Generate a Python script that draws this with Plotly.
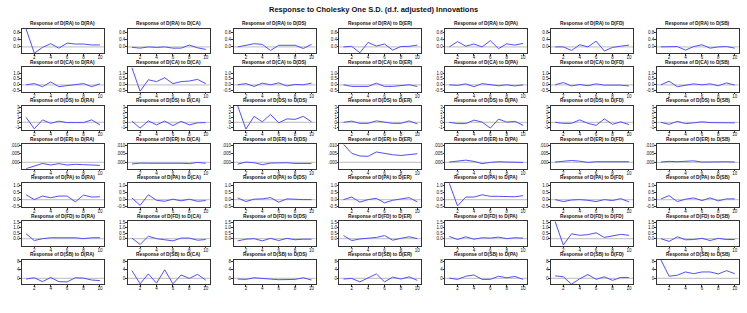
import plotly.graph_objects as go

variables = ["RA", "CA", "DS", "ER", "PA", "FD", "SB"]
periods = list(range(1, 11))
x_ticks = [2, 4, 6, 8, 10]

# responses of each row variable to shocks in each column variable
resp_RA = [
    [1.00, -0.35, -0.03, 0.18, -0.07, 0.21, 0.16, 0.16, 0.11, 0.11],
    [-0.02, -0.07, 0.00, -0.03, 0.00, -0.07, -0.07, 0.10, -0.05, -0.14],
    [0.00, 0.09, 0.18, 0.14, -0.20, 0.09, 0.09, 0.09, -0.09, 0.14],
    [0.00, 0.03, -0.33, 0.25, 0.05, 0.16, -0.18, 0.02, 0.03, 0.10],
    [0.00, 0.30, 0.04, 0.16, 0.00, 0.35, -0.10, 0.17, 0.10, 0.20],
    [0.00, 0.00, -0.20, 0.12, 0.00, 0.32, -0.23, -0.03, 0.04, 0.10],
    [0.00, 0.02, 0.02, -0.18, 0.02, 0.12, -0.07, 0.00, 0.02, -0.07],
]
resp_CA = [
    [0.00, 0.10, -0.16, 0.24, -0.16, -0.08, 0.00, 0.10, -0.16, 0.08],
    [1.45, -0.55, 0.43, 0.27, 0.60, 0.10, 0.27, 0.32, 0.46, 0.10],
    [0.00, 0.10, -0.14, 0.14, 0.00, 0.16, -0.10, 0.03, 0.00, 0.14],
    [0.00, -0.14, -0.14, -0.14, 0.14, -0.14, -0.14, -0.05, 0.00, -0.14],
    [0.00, -0.05, 0.08, -0.16, 0.10, 0.00, -0.08, 0.00, -0.10, 0.00],
    [0.00, 0.19, -0.10, 0.03, -0.08, 0.08, -0.03, -0.03, -0.03, -0.10],
    [0.00, 0.30, -0.16, -0.03, 0.08, 0.00, 0.08, -0.08, 0.16, -0.03],
]
resp_DS = [
    [1.0, -1.3, 0.5, -0.2, 0.25, -0.05, -0.05, -0.05, 0.5, -0.5],
    [0.25, -1.15, 0.3, -0.5, 0.25, -0.65, 0.2, -0.5, -0.1, -0.05],
    [3.3, -1.35, 1.2, 0.1, 1.6, -0.1, 0.7, 0.6, 1.2, 0.1],
    [0.0, 0.25, -0.2, -0.2, 0.3, 0.05, -0.2, -0.2, 0.3, -0.3],
    [0.0, -0.25, -0.25, 0.45, 0.05, -1.15, 0.65, 0.05, 0.2, -0.6],
    [0.0, -0.2, -0.2, 0.5, -0.2, -0.6, 0.7, -0.4, 0.1, -0.45],
    [0.0, -0.4, 0.2, -0.25, -0.1, 0.1, -0.05, -0.1, -0.05, -0.1],
]
resp_ER = [
    [-0.0036, -0.0020, -0.0006, -0.0015, -0.0007, -0.0015, -0.0011, -0.0013, -0.0017, -0.0017],
    [-0.0009, -0.0004, -0.0005, -0.0005, -0.0002, -0.0002, -0.0005, -0.0007, 0.0000, -0.0005],
    [-0.0010, 0.0002, -0.0002, -0.0013, -0.0004, -0.0002, -0.0002, -0.0006, -0.0006, -0.0006],
    [0.0104, 0.0052, 0.0037, 0.0035, 0.0060, 0.0050, 0.0044, 0.0040, 0.0046, 0.0050],
    [0.0002, 0.0006, 0.0013, 0.0006, -0.0007, 0.0000, 0.0004, 0.0002, 0.0002, 0.0000],
    [0.0002, 0.0006, 0.0011, 0.0007, 0.0000, 0.0004, 0.0004, 0.0004, 0.0004, 0.0004],
    [0.0002, 0.0006, 0.0004, 0.0006, 0.0009, 0.0002, 0.0004, 0.0004, 0.0004, 0.0002],
]
resp_PA = [
    [0.34, 0.00, 0.25, 0.13, 0.25, 0.25, -0.16, 0.32, 0.18, 0.20],
    [0.12, -0.41, 0.34, -0.05, -0.12, 0.03, -0.09, 0.03, -0.12, -0.07],
    [0.12, -0.14, 0.03, 0.05, 0.14, -0.18, 0.05, 0.00, 0.00, 0.00],
    [0.00, 0.18, -0.18, 0.00, 0.09, -0.23, -0.05, 0.05, 0.14, -0.16],
    [1.15, -0.45, 0.18, 0.18, 0.34, 0.23, 0.23, 0.20, 0.20, 0.28],
    [0.00, -0.14, -0.03, 0.00, -0.05, -0.14, 0.00, -0.07, 0.07, -0.16],
    [0.05, 0.28, -0.14, 0.03, 0.12, -0.07, 0.12, -0.09, 0.05, 0.05],
]
resp_FD = [
    [0.44, -0.17, 0.00, 0.08, 0.08, 0.11, 0.08, 0.00, 0.08, 0.08],
    [0.05, -0.53, 0.22, 0.00, -0.10, -0.20, 0.05, 0.05, -0.14, -0.08],
    [-0.20, -0.05, 0.00, -0.20, 0.03, -0.17, 0.03, -0.10, -0.05, -0.05],
    [0.28, -0.17, -0.03, 0.05, 0.11, 0.28, -0.14, 0.03, 0.17, 0.00],
    [0.20, -0.08, 0.17, -0.05, 0.08, 0.05, 0.14, 0.00, 0.08, 0.05],
    [1.55, -0.58, 0.44, 0.30, 0.36, 0.53, 0.11, 0.28, 0.39, 0.30],
    [0.00, -0.25, 0.17, -0.10, -0.08, 0.03, -0.17, 0.03, -0.08, -0.08],
]
resp_SB = [
    [-0.3, 0.3, -1.5, 0.45, -1.5, -1.6, 0.3, 0.15, -0.75, -1.0],
    [3.6, -2.5, 2.1, -2.2, 4.0, -2.5, 1.6, 0.0, 1.9, -0.75],
    [-0.3, -0.45, 0.3, -0.15, -0.3, -0.6, -0.45, -0.45, 0.3, -0.75],
    [-0.3, 0.0, -1.6, 0.3, 2.1, -1.6, 0.6, -0.3, 0.75, -0.9],
    [0.15, -0.45, 1.0, 1.6, -0.45, -0.45, 1.0, 0.3, 0.9, -0.45],
    [1.2, 0.75, -2.7, -0.15, 1.8, -0.45, 0.75, -0.9, 0.45, 0.45],
    [8.6, 1.0, 1.5, 3.0, 2.2, 3.0, 3.0, 2.1, 3.6, 2.2],
]
responses = [resp_RA, resp_CA, resp_DS, resp_ER, resp_PA, resp_FD, resp_SB]

y_ranges = [[-0.36, 1.02], [-0.6, 1.5], [-1.6, 3.35], [-0.0037, 0.0105],
            [-0.55, 1.2], [-0.65, 1.58], [-2.75, 8.7]]
y_tickvals = [[0, 0.4, 0.8], [-0.5, 0, 0.5, 1.0], [-1, 0, 1, 2, 3], [0, 0.005, 0.010],
              [-0.5, 0, 0.5, 1.0], [0, 0.5, 1.0, 1.5], [0, 4, 8]]
y_ticktext = [["0.0", "0.4", "0.8"], ["-0.5", "0.0", "0.5", "1.0"], ["-1", "0", "1", "2", "3"],
              [".000", ".005", ".010"], ["-0.5", "0.0", "0.5", "1.0"],
              ["0.0", "0.5", "1.0", "1.5"], ["0", "4", "8"]]

W, H = 747, 313
left0, col_pitch, pw = 22, 105.8, 82
top0, row_pitch, ph = 27, 39, 25

fig = go.Figure()
annotations = []
shapes = []
tickfont = dict(size=4.5, family="Arial", color="#111")
for r in range(7):
    for c in range(7):
        k = r * 7 + c + 1
        sx = "" if k == 1 else str(k)
        x0 = left0 + c * col_pitch
        y0 = top0 + r * row_pitch
        xd = [x0 / W, (x0 + pw) / W]
        yd = [1 - (y0 + ph) / H, 1 - y0 / H]
        fig.add_trace(go.Scatter(
            x=periods, y=responses[r][c], mode="lines",
            line=dict(color="#5050ff", width=1), xaxis="x" + sx, yaxis="y" + sx,
            showlegend=False, hoverinfo="skip"))
        fig.layout["xaxis" + sx] = dict(
            domain=xd, anchor="y" + sx, range=[0.5, 10.5], tickvals=x_ticks,
            ticks="outside", ticklen=1.5, tickwidth=1, tickcolor="#333",
            tickfont=tickfont, ticklabelstandoff=-2,
            showline=True, mirror=True, linecolor="#333", linewidth=1.2,
            showgrid=False, zeroline=False, fixedrange=True)
        fig.layout["yaxis" + sx] = dict(
            domain=yd, anchor="x" + sx, range=y_ranges[r], tickvals=y_tickvals[r],
            ticktext=y_ticktext[r],
            ticks="outside", ticklen=1.5, tickwidth=1, tickcolor="#333",
            tickfont=tickfont, ticklabelstandoff=-1,
            showline=True, mirror=True, linecolor="#333", linewidth=1.2,
            showgrid=False, zeroline=False, fixedrange=True)
        shapes.append(dict(type="line", xref="x" + sx + " domain", yref="y" + sx,
                           x0=0, x1=1, y0=0, y1=0,
                           line=dict(color="#c8c8c8", width=1.2), layer="below"))
        annotations.append(dict(
            text="<b>Response of D(%s) to D(%s)</b>" % (variables[r], variables[c]),
            x=(x0 + pw / 2) / W, y=1 - (y0 - 0.5) / H, xref="paper", yref="paper",
            xanchor="center", yanchor="bottom", showarrow=False,
            font=dict(size=4.8, family="Arial", color="#111")))

annotations.append(dict(
    text="<b>Response to Cholesky One S.D. (d.f. adjusted) Innovations</b>",
    x=0.5, y=1 - 14.5 / H, xref="paper", yref="paper", xanchor="center",
    yanchor="bottom", showarrow=False,
    font=dict(size=7.5, family="Arial", color="#111")))

fig.update_layout(width=W, height=H, margin=dict(l=0, r=0, t=0, b=0),
                  paper_bgcolor="white", plot_bgcolor="white",
                  annotations=annotations, shapes=shapes)
fig.write_html("out.html")
